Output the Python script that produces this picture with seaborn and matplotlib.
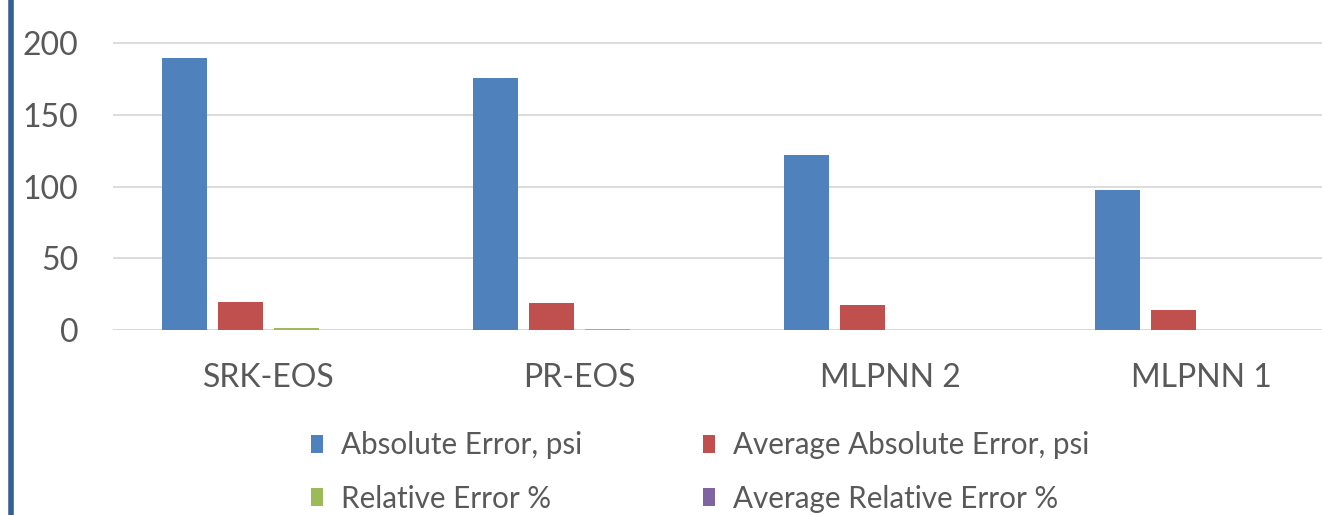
import matplotlib
matplotlib.use("Agg")
import matplotlib.pyplot as plt
import seaborn as sns
import pandas as pd
from matplotlib.patches import Patch
from matplotlib.lines import Line2D

# Error metrics for each pressure-prediction method
methods = ["SRK-EOS", "PR-EOS", "MLPNN 2", "MLPNN 1"]
series = ["Absolute Error, psi", "Average Absolute Error, psi",
          "Relative Error %", "Average Relative Error %"]
absolute_error = [189.5, 175.5, 122.0, 97.5]
avg_absolute_error = [19.5, 18.5, 17.5, 14.0]
relative_error = [1.6, 0.9, 0.0, 0.0]
avg_relative_error = [0.0, 0.0, 0.0, 0.0]
y_ticks = [0, 50, 100, 150, 200]

colors = ["#4F81BD", "#C0504D", "#9BBB59", "#8064A2"]
text_color = "#595959"

rows = []
for name, vals in zip(series, [absolute_error, avg_absolute_error,
                               relative_error, avg_relative_error]):
    for m, v in zip(methods, vals):
        rows.append({"Method": m, "Series": name, "Value": v})
df = pd.DataFrame(rows)

sns.set_theme(style="white")
plt.rcParams["font.family"] = ["Lato", "DejaVu Sans"]

W, H = 1322, 515
fig = plt.figure(figsize=(W / 100, H / 100), dpi=100)
ax_left = 113 / W
ax_bottom = (H - 330) / H
ax_top = (H - 41.6) / H
ax = fig.add_axes([ax_left, ax_bottom, 1 - ax_left, ax_top - ax_bottom])

sns.barplot(data=df, x="Method", y="Value", hue="Series", order=methods,
            hue_order=series, palette=colors, width=0.72, gap=0.2,
            edgecolor="none", ax=ax, legend=False,
            errorbar=None, saturation=1)

ax.set_ylim(0, 201)
ax.set_xlim(-0.5, -0.5 + (W - 113) / 311)
ax.set_yticks(y_ticks)
ax.set_yticklabels([str(t) for t in y_ticks])
ax.yaxis.grid(True, color="#d9d9d9", linewidth=1.3)
ax.set_axisbelow(True)
for s in ax.spines.values():
    s.set_visible(False)
ax.axhline(0, color="#d9d9d9", linewidth=2, zorder=0.5)
ax.tick_params(axis="y", length=0, pad=25, labelsize=23, labelcolor=text_color)
ax.tick_params(axis="x", length=0, pad=24, labelsize=23, labelcolor=text_color)
ax.set_xlabel("")
ax.set_ylabel("")

# legend laid out row by row: column-major order for ncol=2
order = [0, 2, 1, 3]
handles = [Patch(facecolor=colors[i], edgecolor="none") for i in order]
labels = [series[i] for i in order]
fig.legend(handles, labels, ncol=2, loc="center left",
           bbox_to_anchor=(311 / W, (H - 472) / H), frameon=False,
           borderpad=0, borderaxespad=0,
           fontsize=21.3, labelcolor=text_color, handlelength=0.4,
           handleheight=0.54, handletextpad=0.6, columnspacing=4.1,
           labelspacing=0.85)

# left frame stripe
fig.add_artist(Line2D([10.5 / W, 10.5 / W], [0, 1], color="#365f91",
                      linewidth=4, transform=fig.transFigure))

fig.savefig("out.png", dpi=100)
